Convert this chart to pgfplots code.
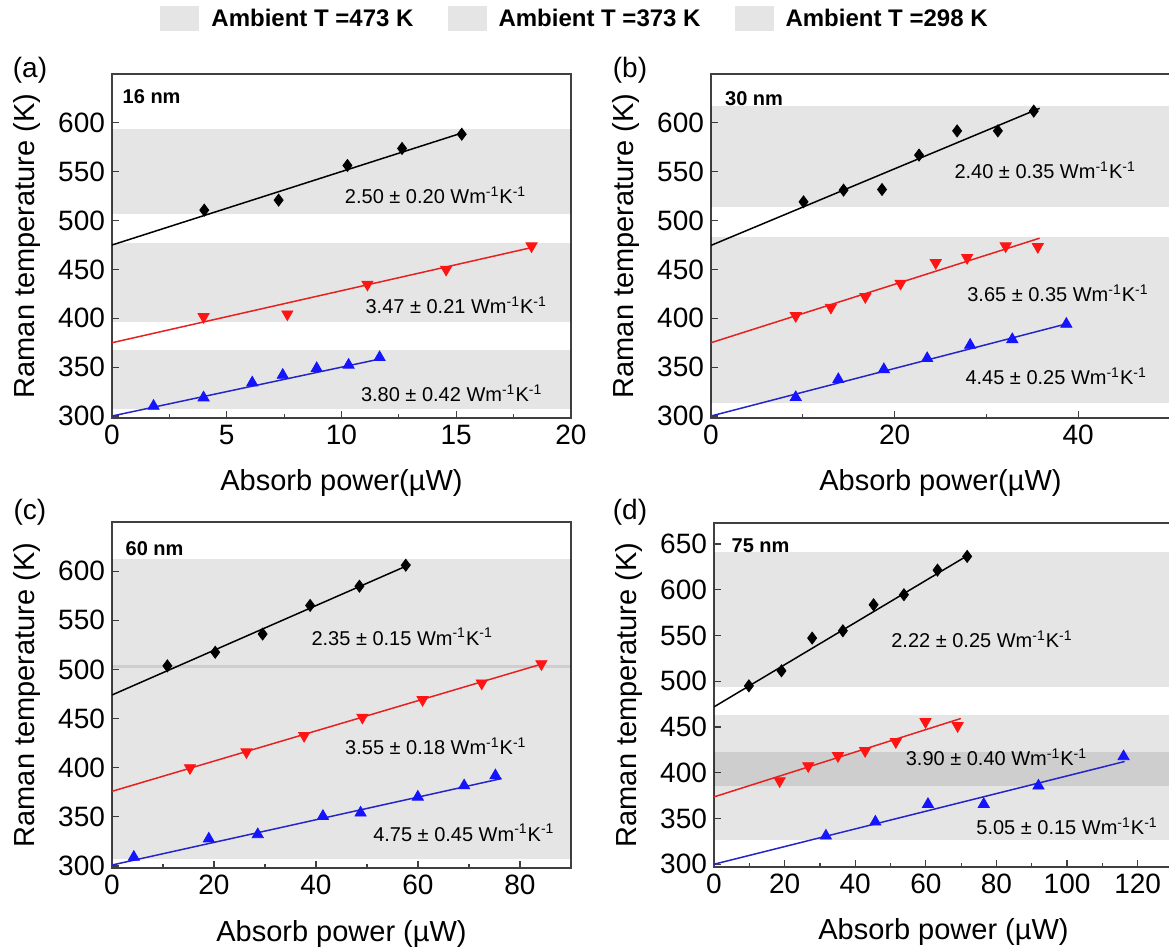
\documentclass[border=0pt]{standalone}
\usepackage{fontspec}
\setmainfont{Liberation Sans}
\usepackage{pgfplots}
\pgfplotsset{compat=1.18}
\definecolor{rline}{rgb}{0.90,0.13,0.13}
\definecolor{rmark}{rgb}{1.00,0.08,0.08}
\definecolor{bline}{rgb}{0.15,0.15,0.78}
\definecolor{bmark}{rgb}{0.08,0.08,1.00}
\tikzset{
  ann/.style={font=\fontsize{10}{12}\selectfont, anchor=center},
  nm/.style={font=\bfseries\fontsize{10}{12}\selectfont, anchor=west, inner sep=0pt},
}
\pgfplotsset{
  panel/.style={
    scale only axis, width=229.5pt, anchor=south west,
    tick align=inside, xtick pos=bottom, ytick pos=left,
    major tick length=3.5pt, minor tick length=2pt,
    every tick/.style={black!75, line width=0.6pt},
    axis line style={black!75, line width=0.9pt},
    tick label style={font=\fontsize{14}{16}\selectfont},
    /pgf/number format/assume math mode=true,
    /pgf/number format/1000 sep={},
    ylabel={Raman temperature (K)},
    every axis y label/.style={at={(axis description cs:-0.185,0.5)}, rotate=90, anchor=center, font=\fontsize{14.5}{16}\selectfont},
    every axis x label/.style={at={(axis description cs:0.5,-0.19)}, anchor=center, font=\fontsize{14.5}{16}\selectfont},
    minor x tick num=1,
    legend image code/.code={\fill[##1] (0pt,-6.25pt) rectangle (19.5pt,6.25pt);},
  },
  band/.style={draw=none, fill=black, fill opacity=0.1},
  bkm/.style={only marks, mark=diamond*, mark size=3pt, black},
  rdm/.style={only marks, mark=triangle*, mark options={rotate=180}, mark size=3.2pt, rmark},
  blm/.style={only marks, mark=triangle*, mark size=3.2pt, bmark},
  bkl/.style={black, line width=0.75pt},
  rdl/.style={rline, line width=0.75pt},
  bll/.style={bline, line width=0.75pt},
}
\newcommand{\kunit}{Wm\textsuperscript{-1}K\textsuperscript{-1}}
\begin{document}
\begin{tikzpicture}
% ---------------- (a) ----------------
\begin{axis}[panel, at={(56pt,267pt)}, height=172pt,
  xmin=0, xmax=20, ymin=298, ymax=650,
  xtick={0,5,10,15,20}, ytick={300,350,...,600},
  xlabel={Absorb power(µW)},
  legend columns=3,
  legend style={at={(1.011,1.16)}, anchor=center, draw=none, fill=none,
    font=\bfseries\fontsize{12}{14}\selectfont,
    /tikz/every even column/.append style={column sep=15pt},
    /tikz/every odd column/.append style={column sep=4pt}},
]
\addplot[band] coordinates {(0,506.6) (20,506.6) (20,594) (0,594)} -- cycle;
\addplot[band] coordinates {(0,396.5) (20,396.5) (20,477) (0,477)} -- cycle;
\addplot[band] coordinates {(0,307) (20,307) (20,367.5) (0,367.5)} -- cycle;
\legend{Ambient T =473 K, Ambient T =373 K, Ambient T =298 K}
\addplot[bkl] coordinates {(0,475) (15.3,590)};
\addplot[rdl] coordinates {(0,375) (18.4,473)};
\addplot[bll] coordinates {(0,300) (11.8,359)};
\addplot[bkm] coordinates {(4.02,510.7) (7.26,520.9) (10.26,556.4) (12.64,573.8) (15.24,588.4)};
\addplot[rdm] coordinates {(3.99,401.6) (7.64,404.3) (11.13,434.7) (14.56,450) (18.28,473.9)};
\addplot[blm] coordinates {(1.81,310.2) (3.99,318.8) (6.11,334.1) (7.44,341.9) (8.92,348.8) (10.31,352.2) (11.66,360)};
\node[nm] at (axis cs:0.45,627) {16 nm};
\node[ann] at (axis cs:14.1,526) {2.50 ± 0.20 \kunit};
\node[ann] at (axis cs:15.0,413.5) {3.47 ± 0.21 \kunit};
\node[ann] at (axis cs:14.8,323) {3.80 ± 0.42 \kunit};
\end{axis}
% ---------------- (b) ----------------
\begin{axis}[panel, at={(355.5pt,267pt)}, height=172pt,
  xmin=0, xmax=50, ymin=298, ymax=650,
  xtick={0,20,40}, ytick={300,350,...,600},
  xlabel={Absorb power(µW)},
]
\addplot[band] coordinates {(0,514) (50,514) (50,617) (0,617)} -- cycle;
\addplot[band] coordinates {(0,313.6) (50,313.6) (50,483.4) (0,483.4)} -- cycle;
\addplot[bkl] coordinates {(0,474.6) (35.8,614.9)};
\addplot[rdl] coordinates {(0,375) (35.8,482)};
\addplot[bll] coordinates {(0,300) (38.8,394.5)};
\addplot[bkm] coordinates {(10.08,519.2) (14.44,531.2) (18.63,531.8) (22.66,567) (26.81,591.8) (31.25,591.8) (35.16,612)};
\addplot[rdm] coordinates {(9.23,402.6) (13.06,411.1) (16.81,422) (20.65,435.7) (24.48,456.8) (27.9,462) (32.1,473.9) (35.6,473.2)};
\addplot[blm] coordinates {(9.23,319.1) (13.87,337.5) (18.83,347.7) (23.55,359) (28.23,372.6) (32.82,378.4) (38.71,394.1)};
\node[nm] at (axis cs:1.5,625) {30 nm};
\node[ann] at (axis cs:36.4,551.6) {2.40 ± 0.35 \kunit};
\node[ann] at (axis cs:37.8,425.5) {3.65 ± 0.35 \kunit};
\node[ann] at (axis cs:37.6,341) {4.45 ± 0.25 \kunit};
\end{axis}
% ---------------- (c) ----------------
\begin{axis}[panel, at={(56pt,42pt)}, height=173pt,
  xmin=0, xmax=90, ymin=298, ymax=650,
  xtick={0,20,40,60,80}, ytick={300,350,...,600},
  xlabel={Absorb power (µW)},
]
\addplot[band] coordinates {(0,501) (90,501) (90,612) (0,612)} -- cycle;
\addplot[band] coordinates {(0,307) (90,307) (90,505) (0,505)} -- cycle;
\addplot[bkl] coordinates {(0,474) (58.5,607)};
\addplot[rdl] coordinates {(0,376) (84.6,506)};
\addplot[bll] coordinates {(0,301) (76.4,389)};
\addplot[bkm] coordinates {(10.86,503.6) (20.24,517.5) (29.54,536) (38.85,565.1) (48.52,584.7) (57.6,606)};
\addplot[rdm] coordinates {(15.29,399.8) (26.37,416) (37.67,432.6) (49.1,451.2) (60.9,469.1) (72.5,486) (84.2,505.6)};
\addplot[blm] coordinates {(4.28,309.1) (18.98,327.7) (28.58,332.1) (41.36,350.7) (48.74,354.1) (59.97,370.3) (69.05,381.8) (75.18,392)};
\node[nm] at (axis cs:2.6,623) {60 nm};
\node[ann] at (axis cs:56.9,533.3) {2.35 ± 0.15 \kunit};
\node[ann] at (axis cs:63.5,421.7) {3.55 ± 0.18 \kunit};
\node[ann] at (axis cs:69,333.8) {4.75 ± 0.45 \kunit};
\end{axis}
% ---------------- (d) ----------------
\begin{axis}[panel, at={(357pt,42.5pt)}, height=172pt,
  xmin=0, xmax=130, ymin=297, ymax=673,
  xtick={0,20,...,120}, ytick={300,350,...,650},
  xlabel={Absorb power (µW)},
]
\addplot[band] coordinates {(0,493.2) (130,493.2) (130,640.9) (0,640.9)} -- cycle;
\addplot[band] coordinates {(0,385) (130,385) (130,463.3) (0,463.3)} -- cycle;
\addplot[band] coordinates {(0,326.2) (130,326.2) (130,423.2) (0,423.2)} -- cycle;
\addplot[bkl] coordinates {(0,472) (72.2,638.3)};
\addplot[rdl] coordinates {(0,373.6) (69.9,459.3)};
\addplot[bll] coordinates {(0,300) (116.3,412.3)};
\addplot[bkm] coordinates {(9.88,495) (19.1,511.4) (27.8,547.2) (36.5,555.2) (45.2,583.6) (53.8,594.6) (63.3,621.5) (71.7,636.5)};
\addplot[rdm] coordinates {(18.6,391.1) (26.7,407.5) (35.1,418.5) (42.8,424) (51.5,433.8) (59.9,455.7) (69.0,451.3)};
\addplot[blm] coordinates {(31.7,331) (45.7,346.3) (60.6,365.6) (76.4,365.6) (91.9,385.7) (116,417.8)};
\node[nm] at (axis cs:4.9,648) {75 nm};
\node[ann] at (axis cs:75.9,546) {2.22 ± 0.25 \kunit};
\node[ann] at (axis cs:80,416.7) {3.90 ± 0.40 \kunit};
\node[ann] at (axis cs:100,341.9) {5.05 ± 0.15 \kunit};
\end{axis}
% panel letters
\node[font=\fontsize{14}{16}\selectfont] at (15pt,441pt) {(a)};
\node[font=\fontsize{14}{16}\selectfont] at (315pt,441pt) {(b)};
\node[font=\fontsize{14}{16}\selectfont] at (15pt,220pt) {(c)};
\node[font=\fontsize{14}{16}\selectfont] at (315pt,220pt) {(d)};
\pgfresetboundingbox
\path[use as bounding box] (0,0) rectangle (584.5pt,476pt);
\end{tikzpicture}
\end{document}
